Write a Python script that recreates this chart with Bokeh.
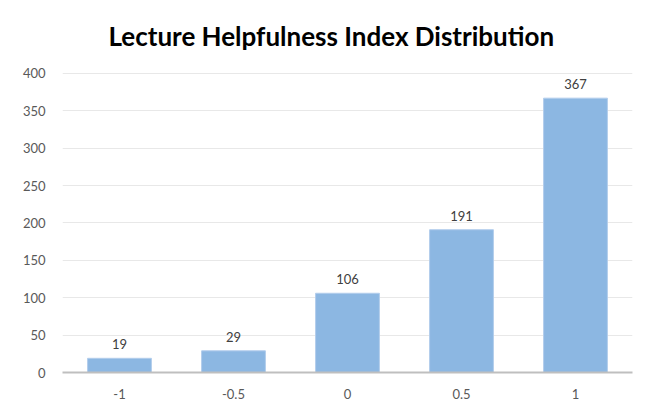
from bokeh.plotting import figure
from bokeh.models import ColumnDataSource, FactorRange, Range1d, FixedTicker, LabelSet
from bokeh.core.properties import value
from bokeh.embed import file_html
from bokeh.resources import INLINE

categories = ["-1", "-0.5", "0", "0.5", "1"]
counts = [19, 29, 106, 191, 367]
y_ticks = [0, 50, 100, 150, 200, 250, 300, 350, 400]

FONT = "Lato"

src = ColumnDataSource(dict(cat=categories, val=counts, lab=[str(v) for v in counts]))

p = figure(width=641, height=403, output_backend="svg", toolbar_location=None,
           x_range=FactorRange(*categories, range_padding=0),
           y_range=Range1d(0, 421.4),
           min_border_left=62, min_border_right=9, min_border_bottom=31, min_border_top=57,
           title="Lecture Helpfulness Index Distribution")

p.title.text_font = FONT
p.title.text_font_size = "26px"
p.title.text_font_style = "bold"
p.title.text_color = "#000000"
p.title.align = "left"
p.title.offset = 46
p.title.standoff = 12

p.vbar(x="cat", top="val", width=0.56, source=src,
       fill_color="#8cb7e2", line_color="#b2cdec", line_width=1)

labels = LabelSet(x="cat", y="val", text="lab", source=src, text_align="center",
                  text_baseline="bottom", y_offset=9, text_font_size="13px",
                  text_color="#404040", text_font=value(FONT))
p.add_layout(labels)

p.outline_line_color = None
p.background_fill_color = "white"
p.border_fill_color = "white"

p.xgrid.grid_line_color = None
p.ygrid.grid_line_color = "#e8e8e8"
p.ygrid.grid_line_width = 1

p.yaxis.ticker = FixedTicker(ticks=y_ticks)
p.yaxis.axis_line_color = None
p.yaxis.major_tick_line_color = None
p.yaxis.minor_tick_line_color = None
p.yaxis.major_label_standoff = 11
p.yaxis.major_label_text_font = FONT
p.yaxis.major_label_text_font_size = "13px"
p.yaxis.major_label_text_color = "#595959"

p.xaxis.axis_line_color = "#bfbfbf"
p.xaxis.axis_line_width = 2
p.xaxis.major_tick_line_color = None
p.xaxis.minor_tick_line_color = None
p.xaxis.major_label_standoff = 10
p.xaxis.major_label_text_font = FONT
p.xaxis.major_label_text_font_size = "13px"
p.xaxis.major_label_text_color = "#595959"

open("out.html", "w").write(file_html(p, INLINE))
